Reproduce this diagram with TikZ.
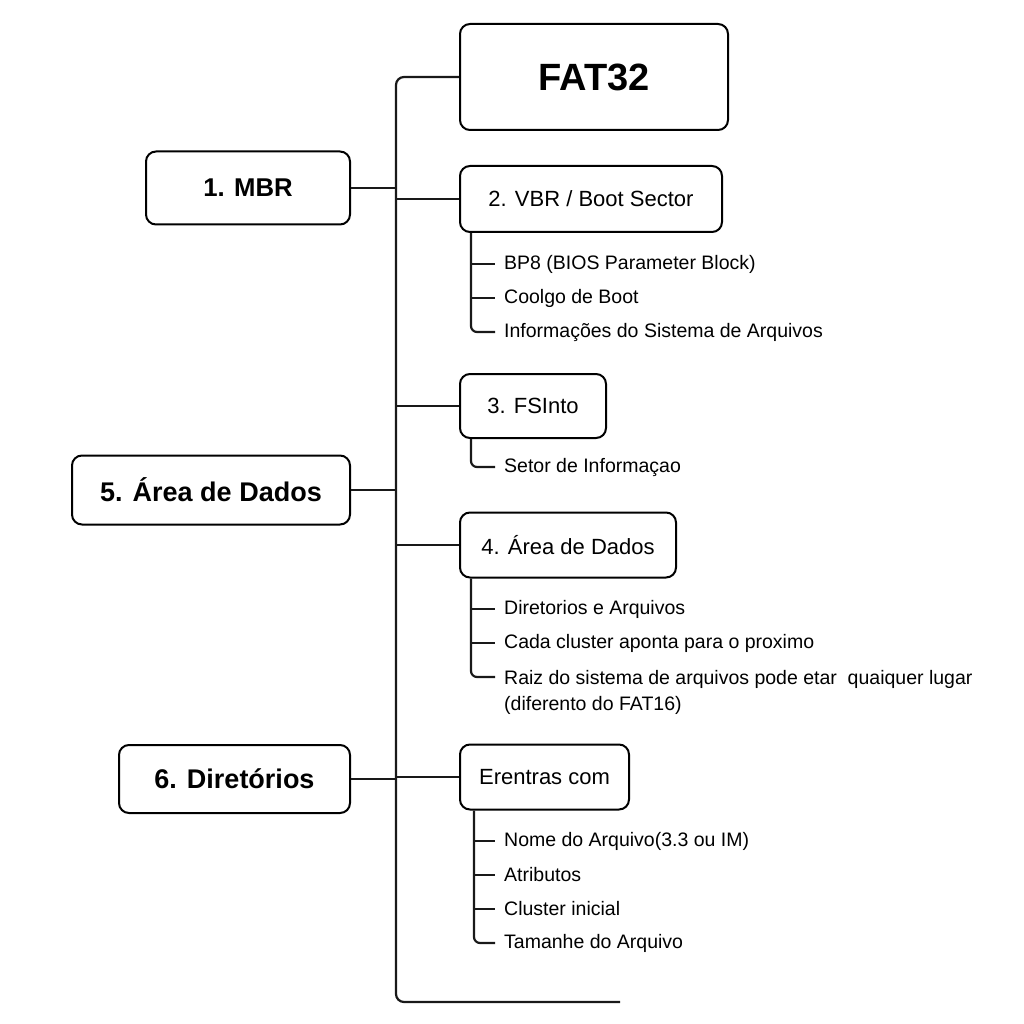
\documentclass[tikz,border=0pt]{standalone}
\usepackage{fontspec}
\setmainfont{Liberation Sans}
\usetikzlibrary{positioning}

\begin{document}
\begin{tikzpicture}[x=1pt, y=-1pt,
  link/.style={line width=2.2pt, black!90},
  mainbox/.style={draw, line width=2pt, rounded corners=10pt, fill=white, inner sep=0pt,
    font=\fontsize{27}{32}\selectfont\bfseries},
  partbox/.style={draw, line width=2pt, rounded corners=10pt, fill=white, inner sep=0pt,
    font=\fontsize{22}{27}\selectfont},
  item/.style={anchor=west, inner xsep=9pt, inner ysep=1pt, font=\fontsize{19.5}{26}\selectfont}
]
\useasboundingbox (0,0) rectangle (1024,1024);

% Title
\node[mainbox, font=\fontsize{38}{44}\selectfont\bfseries, minimum width=268pt, minimum height=106pt] (fat) at (594,77) {FAT32};

% Left column
\node[mainbox, font=\fontsize{25.7}{30}\selectfont\bfseries, minimum width=204pt, minimum height=73pt] (mbr) at (248,188) {1. MBR};
\node[mainbox, minimum width=278pt, minimum height=69pt] (dados5) at (211,490) {5. Área de Dados};
\node[mainbox, minimum width=231pt, minimum height=68pt] (dir6) at (234.5,779) {6. Diretórios};

% Right column
\node[partbox, minimum width=262pt, minimum height=66pt] (vbr) at (591,199) {2. VBR / Boot Sector};
\node[partbox, minimum width=146pt, minimum height=64pt] (fsinfo) at (533,406) {3. FSInto};
\node[partbox, minimum width=216pt, minimum height=65pt] (dados4) at (568,545) {4. Área de Dados};
\node[partbox, minimum width=169pt, minimum height=65pt] (entradas) at (544.5,777) {Erentras com};

% Trunk
\coordinate (spine) at (396,0);
\coordinate (trunkend) at (620,1002);
\draw[link, rounded corners=8pt] (fat.west) -- (fat.west -| spine) -- (spine |- trunkend) -- (trunkend);
\foreach \b in {mbr, dados5, dir6} \draw[link] (\b.east) -- (\b.east -| spine);
\foreach \b in {vbr, fsinfo, dados4, entradas} \draw[link] (spine |- \b.west) -- (\b.west);

% VBR
\node[item] (bpb) at (495,264) {BP8 (BIOS Parameter Block)};
\node[item] (codigo) at (495,298) {Coolgo de Boot};
\node[item] (infosis) at (495,332) {Informações do Sistema de Arquivos};
\coordinate (s2) at ([xshift=12pt]vbr.south west);
\draw[link, rounded corners=6pt] (s2) |- (infosis.west);
\foreach \i in {bpb, codigo} \draw[link] (s2 |- \i.west) -- (\i.west);

% FSInfo
\node[item] (setor) at (495,467) {Setor de Informaçao};
\coordinate (s3) at ([xshift=12pt]fsinfo.south west);
\draw[link, rounded corners=6pt] (s3) |- (setor.west);

% Area de dados
\node[item] (dirarq) at (495,609) {Diretorios e Arquivos};
\node[item] (cadacl) at (495,643) {Cada cluster aponta para o proximo};
\node[item, anchor=base west, align=left] (raiz) at (495,710) {Raiz do sistema de arquivos pode etar\ \ quaiquer lugar\\(diferento do FAT16)};
\coordinate (s4) at ([xshift=12pt]dados4.south west);
\draw[link, rounded corners=6pt] (s4) |- ([yshift=33pt]raiz.base west);
\foreach \i in {dirarq, cadacl} \draw[link] (s4 |- \i.west) -- (\i.west);

% Entradas
\node[item] (nome) at (495,841) {Nome do Arquivo(3.3 ou IM)};
\node[item] (atrib) at (495,875) {Atributos};
\node[item] (clinicial) at (495,909) {Cluster inicial};
\node[item] (tamanho) at (495,943) {Tamanhe do Arquivo};
\coordinate (s6) at ([xshift=15pt]entradas.south west);
\draw[link, rounded corners=6pt] (s6) |- (tamanho.west);
\foreach \i in {nome, atrib, clinicial} \draw[link] (s6 |- \i.west) -- (\i.west);

\end{tikzpicture}
\end{document}
